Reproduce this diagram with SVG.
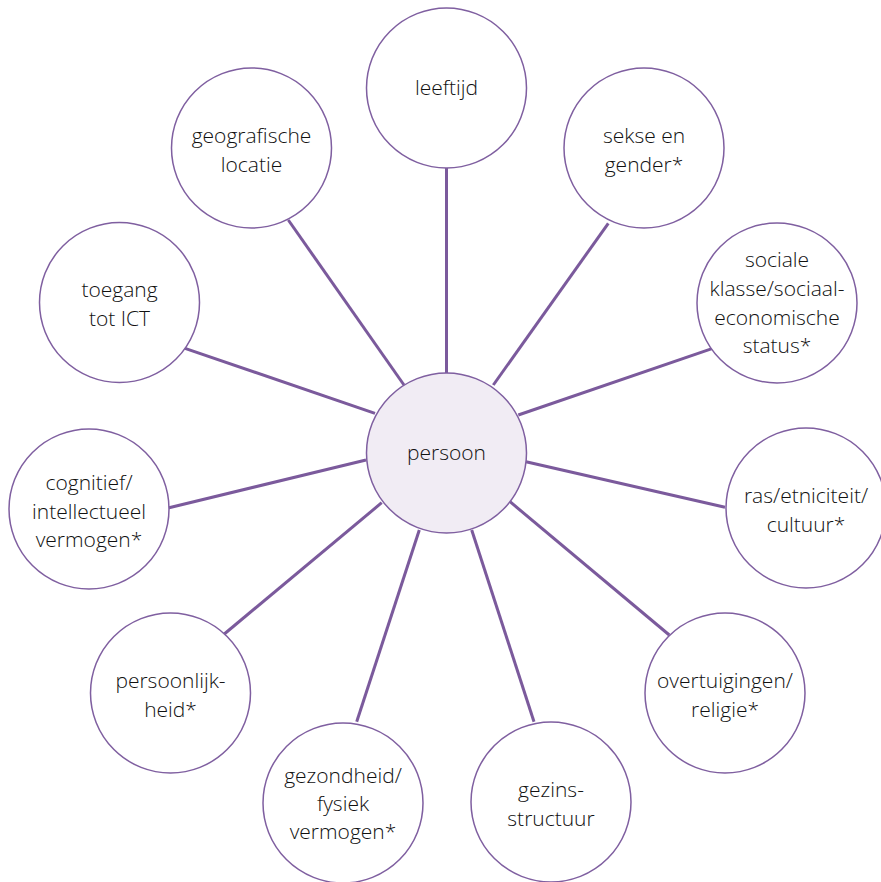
<svg xmlns="http://www.w3.org/2000/svg" width="881" height="882" viewBox="0 0 881 882">
<style>
.c{fill:#fff;stroke:#7f5fa0;stroke-width:1.5}
.m{fill:#f1ecf4;stroke:#7f5fa0;stroke-width:1.5}
.t{font-family:"Open Sans","Noto Sans","Liberation Sans",sans-serif;font-size:21px;font-weight:350;fill:#111;text-anchor:middle}
#connectors line{stroke:#7b5a9c;stroke-width:3;stroke-linecap:butt}
</style>
<rect width="881" height="882" fill="#fff"/>
<g id="connectors">
<line x1="446.5" y1="168" x2="446.5" y2="373"/>
<line x1="608.3" y1="223.3" x2="493.3" y2="385"/>
<line x1="712.7" y1="348.3" x2="518.3" y2="415"/>
<line x1="725" y1="507.3" x2="526" y2="461.7"/>
<line x1="669.3" y1="635" x2="510" y2="501.7"/>
<line x1="534" y1="721.7" x2="471.7" y2="530"/>
<line x1="356.7" y1="721.7" x2="419.3" y2="530"/>
<line x1="224.3" y1="634" x2="381.7" y2="502.7"/>
<line x1="168" y1="508" x2="366" y2="460"/>
<line x1="185" y1="348.3" x2="375" y2="413.3"/>
<line x1="288.3" y1="220" x2="404" y2="385"/>
</g>
<g id="persoon"><circle class="m" cx="446.5" cy="453" r="80"/><text class="t" x="446.5" y="460">persoon</text></g>
<g id="leeftijd"><circle class="c" cx="446.5" cy="88" r="80"/><text class="t" x="446.5" y="95">leeftijd</text></g>
<g id="sekse"><circle class="c" cx="644" cy="148" r="80"/><text class="t" x="644" y="143">sekse en</text><text class="t" x="644" y="172">gender*</text></g>
<g id="sociale"><circle class="c" cx="777" cy="303" r="80"/><text class="t" x="777" y="267">sociale</text><text class="t" x="777" y="296">klasse/sociaal-</text><text class="t" x="777" y="325">economische</text><text class="t" x="777" y="353">status*</text></g>
<g id="ras"><circle class="c" cx="806" cy="508" r="80"/><text class="t" x="806" y="503">ras/etniciteit/</text><text class="t" x="806" y="532">cultuur*</text></g>
<g id="overtuigingen"><circle class="c" cx="725" cy="693" r="80"/><text class="t" x="725" y="688">overtuigingen/</text><text class="t" x="725" y="717">religie*</text></g>
<g id="gezinsstructuur"><circle class="c" cx="551" cy="802" r="80"/><text class="t" x="551" y="797">gezins-</text><text class="t" x="551" y="826">structuur</text></g>
<g id="gezondheid"><circle class="c" cx="343" cy="803" r="80"/><text class="t" x="343" y="783">gezondheid/</text><text class="t" x="343" y="811">fysiek</text><text class="t" x="343" y="839">vermogen*</text></g>
<g id="persoonlijkheid"><circle class="c" cx="170.5" cy="693" r="80"/><text class="t" x="170.5" y="688">persoonlijk-</text><text class="t" x="170.5" y="717">heid*</text></g>
<g id="cognitief"><circle class="c" cx="89" cy="509" r="80"/><text class="t" x="89" y="490">cognitief/</text><text class="t" x="89" y="519">intellectueel</text><text class="t" x="89" y="547">vermogen*</text></g>
<g id="toegang"><circle class="c" cx="119.5" cy="302.5" r="80"/><text class="t" x="119.5" y="297">toegang</text><text class="t" x="119.5" y="326">tot ICT</text></g>
<g id="geografische"><circle class="c" cx="251.5" cy="148" r="80"/><text class="t" x="251.5" y="143">geografische</text><text class="t" x="251.5" y="172">locatie</text></g>
</svg>
